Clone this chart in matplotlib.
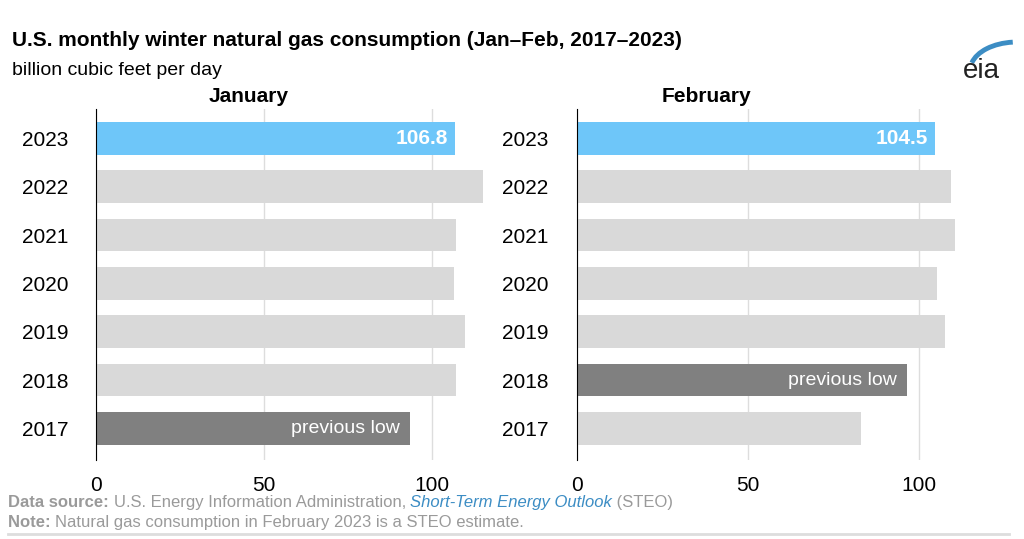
import matplotlib.pyplot as plt
from matplotlib.patches import Arc

years = ["2023", "2022", "2021", "2020", "2019", "2018", "2017"]
january = [106.8, 115.2, 107.2, 106.6, 109.9, 107.2, 93.4]
february = [104.5, 109.3, 110.5, 105.2, 107.6, 96.5, 83.1]
jan_colors = ["#6EC6F9"] + ["#D9D9D9"] * 5 + ["#808080"]
feb_colors = ["#6EC6F9"] + ["#D9D9D9"] * 4 + ["#808080", "#D9D9D9"]

plt.rcParams["font.family"] = ["Liberation Sans", "DejaVu Sans"]
fig = plt.figure(figsize=(10.24, 5.39), dpi=100)

panels = [
    ([0.094, 0.147, 0.38, 0.65], "January", january, jan_colors, 116, 6, 0.243),
    ([0.563, 0.147, 0.375, 0.65], "February", february, feb_colors, 112, 5, 0.69),
]
for rect, title, vals, cols, xmax, low_idx, tx in panels:
    ax = fig.add_axes(rect)
    y = list(range(len(years)))
    ax.barh(y, vals, color=cols, height=0.68, zorder=2)
    ax.set_ylim(len(years) - 0.5 + 0.15, -0.6)
    ax.set_xlim(0, xmax)
    ax.set_yticks(y)
    ax.set_yticklabels(years, fontsize=15)
    ax.set_xticks([0, 50, 100])
    ax.tick_params(axis="x", labelsize=15, length=0, pad=12)
    ax.tick_params(axis="y", length=0, pad=20)
    ax.grid(axis="x", color="#DDDDDD", lw=1, zorder=0)
    for s in ["top", "right", "bottom"]:
        ax.spines[s].set_visible(False)
    ax.spines["left"].set_color("black")
    fig.text(tx, 0.81, title, fontsize=15, fontweight="bold", ha="center")
    ax.text(vals[0] - 2, 0, f"{vals[0]:.1f}", color="white", fontsize=15,
            fontweight="bold", ha="right", va="center", zorder=3)
    ax.text(vals[low_idx] - 3, low_idx, "previous low", color="white",
            fontsize=14, ha="right", va="center", zorder=3)

fig.text(0.012, 0.915, "U.S. monthly winter natural gas consumption (Jan\u2013Feb, 2017\u20132023)",
         fontsize=15, fontweight="bold")
fig.text(0.012, 0.86, "billion cubic feet per day", fontsize=14)

gray = "#9A9A9A"
renderer = fig.canvas.get_renderer()


def text_row(x, y, parts):
    for s, kw in parts:
        t = fig.text(x, y, s, fontsize=12, **kw)
        bb = t.get_window_extent(renderer)
        x += bb.width / fig.bbox.width


text_row(0.008, 0.06, [("Data source: ", dict(fontweight="bold", color=gray)),
                       ("U.S. Energy Information Administration, ", dict(color=gray)),
                       ("Short-Term Energy Outlook", dict(color="#3C8DC4", style="italic")),
                       (" (STEO)", dict(color=gray))])
text_row(0.008, 0.022, [("Note: ", dict(fontweight="bold", color=gray)),
                        ("Natural gas consumption in February 2023 is a STEO estimate.", dict(color=gray))])
fig.add_artist(plt.Line2D([0.008, 0.985], [0.01, 0.01], color="#DDDDDD", lw=2))

# eia logo
fig.text(0.958, 0.855, "eia", fontsize=20, ha="center", color="#222222")
logo = fig.add_axes([0.93, 0.87, 0.07, 0.08])
logo.set_xlim(0, 1); logo.set_ylim(0, 1); logo.axis("off")
logo.add_patch(Arc((0.9, 0.0), 1.3, 1.3, theta1=95, theta2=165, color="#3C8DC4", lw=3.5))

fig.savefig("out.png", dpi=100)
